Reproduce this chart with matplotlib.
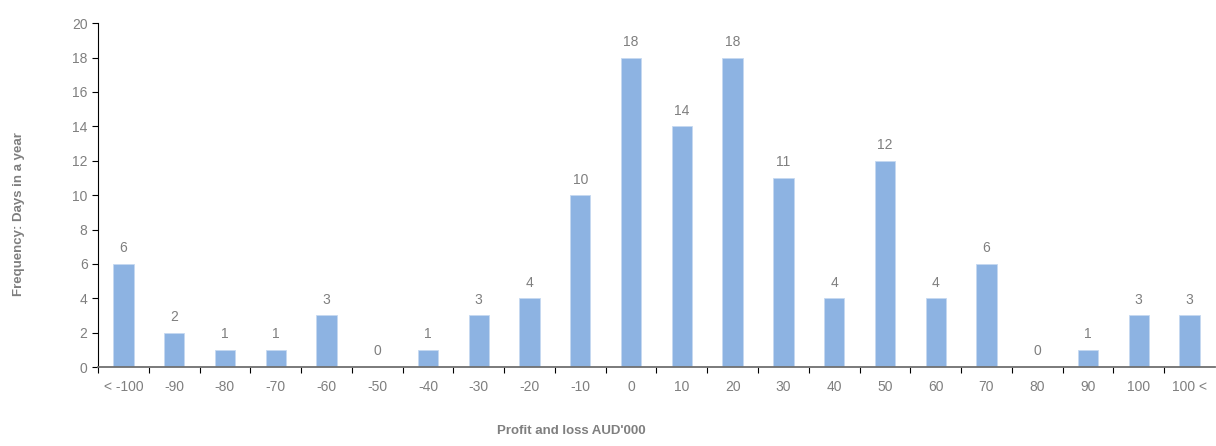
import matplotlib.pyplot as plt

# -------------------------
# Data
# -------------------------
bins = ["< -100", "-90", "-80", "-70", "-60", "-50", "-40", "-30", "-20", "-10",
        "0", "10", "20", "30", "40", "50", "60", "70", "80", "90", "100", "100 <"]
days = [6, 2, 1, 1, 3, 0, 1, 3, 4, 10, 18, 14, 18, 11, 4, 12, 4, 6, 0, 1, 3, 3]

plt.rcParams['font.family'] = ['Liberation Sans', 'DejaVu Sans']
grey = '#7f7f7f'

fig = plt.figure(figsize=(12.16, 4.46), dpi=100)
ax = fig.add_axes([0.0806, 0.177, 0.9185, 0.771])

x = range(len(bins))
ax.bar(x, days, width=0.4, color='#8db3e2', edgecolor='#c6d9f1', linewidth=0.6)

for i, v in enumerate(days):
    ax.text(i, v + 0.5, str(v), ha='center', va='bottom', fontsize=10, color=grey)

ax.set_xlim(-0.5, len(bins) - 0.5)
ax.set_ylim(0, 20)
ax.set_yticks(range(0, 21, 2))
ax.set_xticks(x)
ax.set_xticklabels(bins)
ax.set_xticks([i - 0.5 for i in range(len(bins))], minor=True)
ax.tick_params(axis='x', which='major', length=0, pad=9, labelsize=10, labelcolor=grey)
ax.tick_params(axis='x', which='minor', length=4, width=0.8, color='black', direction='out')
ax.tick_params(axis='y', length=4, width=0.8, labelsize=10, labelcolor=grey)

for s in ['top', 'right']:
    ax.spines[s].set_visible(False)
ax.spines['left'].set_color('black')
ax.spines['left'].set_linewidth(0.8)
ax.spines['bottom'].set_color('#707070')
ax.spines['bottom'].set_linewidth(1.3)

fig.text(0.47, 0.02, "Profit and loss AUD'000", ha='center', va='bottom',
         fontsize=9.5, fontweight='bold', color=grey)
fig.text(0.011, 0.52, "Frequency: Days in a year", ha='left', va='center',
         rotation=90, fontsize=9.5, fontweight='bold', color=grey)

fig.savefig('out.png', dpi=100)
